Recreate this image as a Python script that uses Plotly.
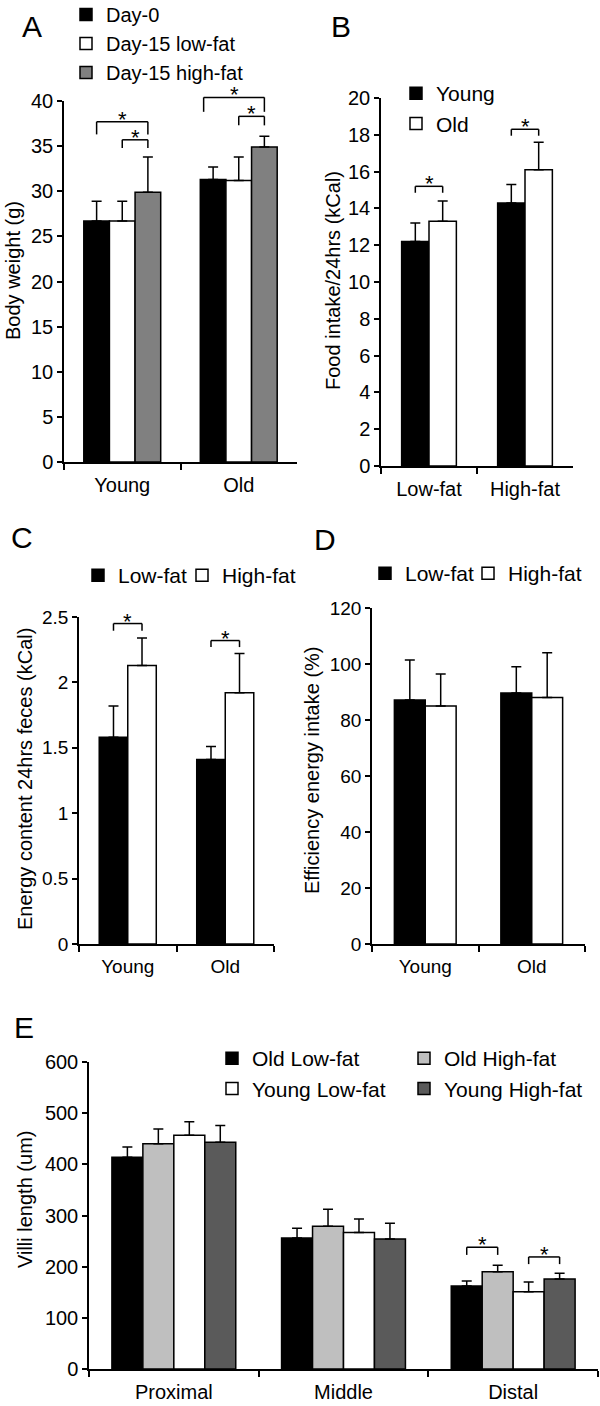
import plotly.graph_objects as go

W, H = 600, 1406
FONT = "Liberation Sans, Arial, Helvetica, sans-serif"

# ---------------- data ----------------
# Panel A
a_cats = ["Young", "Old"]
a_series = ["Day-0", "Day-15 low-fat", "Day-15 high-fat"]
a_vals = [[26.7, 31.3], [26.7, 31.2], [29.9, 34.9]]
a_errs = [[2.2, 1.4], [2.2, 2.6], [3.9, 1.2]]
# (category, from series, to series, bracket height, tick drop)
a_sig = [(0, 0, 2, 37.7, 1.4), (0, 1, 2, 35.7, 0.9),
         (1, 0, 2, 40.4, 1.6), (1, 1, 2, 38.3, 1.0)]

# Panel B
b_cats = ["Low-fat", "High-fat"]
b_series = ["Young", "Old"]
b_vals = [[12.2, 14.3], [13.3, 16.1]]
b_errs = [[1.0, 1.0], [1.1, 1.5]]
b_sig = [(0, 0, 1, 15.2, 0.35), (1, 0, 1, 18.3, 0.35)]

# Panel C
c_cats = ["Young", "Old"]
c_series = ["Low-fat", "High-fat"]
c_vals = [[1.58, 1.41], [2.13, 1.92]]
c_errs = [[0.24, 0.10], [0.21, 0.30]]
c_sig = [(0, 0, 1, 2.45, 0.055), (1, 0, 1, 2.32, 0.05)]

# Panel D
d_cats = ["Young", "Old"]
d_series = ["Low-fat", "High-fat"]
d_vals = [[87.1, 89.6], [85.0, 88.0]]
d_errs = [[14.3, 9.4], [11.4, 16.0]]
d_sig = []

# Panel E
e_cats = ["Proximal", "Middle", "Distal"]
e_series = ["Old Low-fat", "Old High-fat", "Young Low-fat", "Young High-fat"]
e_vals = [[414, 256, 162], [440, 279, 190], [457, 267, 151], [443, 254, 176]]
e_errs = [[20, 19, 10], [29, 33, 13], [26, 26, 19], [33, 31, 11]]
e_sig = [(2, 0, 1, 238, 15), (2, 2, 3, 219, 14)]


def px(x):
    return x / W


def py(y):
    return 1 - y / H


fig = go.Figure()
shapes = []
annotations = []


def panel(k, cats, series, vals, errs, colors, ymax, dtick, frac, xd, yd,
          legends, sig, tickfont, legwidths=None, left_shift=None):
    xa = "x" if k == 1 else f"x{k}"
    ya = "y" if k == 1 else f"y{k}"
    n = len(series)
    w = frac / n
    for i, name in enumerate(series):
        extra = {}
        if legwidths:
            extra["legendwidth"] = legwidths[i]
        fig.add_trace(go.Bar(
            x=cats, y=vals[i], name=name, xaxis=xa, yaxis=ya,
            width=w, offset=-frac / 2 + i * w,
            marker=dict(color=colors[i], line=dict(color="black", width=1.5)),
            error_y=dict(type="data", symmetric=False, array=errs[i],
                         arrayminus=[0] * len(cats), color="black",
                         thickness=1.5, width=5),
            legend=legends[i], showlegend=True, **extra
        ))
    axx = dict(domain=[px(xd[0]), px(xd[1])], anchor=ya, type="category",
               range=[-0.5, len(cats) - 0.5], showline=True, linecolor="black",
               linewidth=1.5, ticks="outside", tickson="boundaries", ticklen=6,
               tickwidth=1.5, tickcolor="black", showgrid=False, ticklabelstandoff=4,
               tickfont=dict(size=tickfont, color="black", family=FONT))
    axy = dict(domain=[py(yd[1]), py(yd[0])], anchor=xa, range=[0, ymax],
               dtick=dtick, tick0=0, showline=True, linecolor="black",
               linewidth=1.5, ticks="outside", ticklen=5, tickwidth=1.5,
               tickcolor="black", showgrid=False, zeroline=False,
               tickfont=dict(size=tickfont, color="black", family=FONT))
    fig.layout[("xaxis" if k == 1 else f"xaxis{k}")] = axx
    fig.layout[("yaxis" if k == 1 else f"yaxis{k}")] = axy
    # significance brackets
    for j, (c, s0, s1, h, drop) in enumerate(sig):
        sh = left_shift[j] if left_shift else 0
        x0 = c - frac / 2 + (s0 + 0.5 + sh) * w
        x1 = c - frac / 2 + (s1 + 0.5) * w
        yt = h / ymax
        yb = (h - drop) / ymax
        for (a0, b0, a1, b1) in [(x0, yb, x0, yt), (x0, yt, x1, yt), (x1, yt, x1, yb)]:
            shapes.append(dict(type="line", xref=xa, yref=f"{ya} domain",
                               x0=a0, y0=b0, x1=a1, y1=b1,
                               line=dict(color="black", width=1.5)))
        annotations.append(dict(x=(x0 + x1) / 2, y=yt, xref=xa, yref=f"{ya} domain",
                                text="*", showarrow=False, yanchor="bottom",
                                yshift=-12, font=dict(size=22, color="black", family=FONT)))


panel(1, a_cats, a_series, a_vals, a_errs, ["#000000", "#ffffff", "#808080"],
      40, 5, 0.66, (64, 297), (101, 462), ["legend"] * 3, a_sig, 20,
      left_shift=[0, 0, -0.37, 0])
panel(2, b_cats, b_series, b_vals, b_errs, ["#000000", "#ffffff"],
      20, 2, 0.57, (381, 573), (98, 466), ["legend2"] * 2, b_sig, 20)
panel(3, c_cats, c_series, c_vals, c_errs, ["#000000", "#ffffff"],
      2.5, 0.5, 0.585, (79, 274), (617, 944), ["legend3"] * 2, c_sig, 19,
      legwidths=[59, 80])
panel(4, d_cats, d_series, d_vals, d_errs, ["#000000", "#ffffff"],
      120, 20, 0.58, (372, 585), (608, 944), ["legend4"] * 2, d_sig, 19,
      legwidths=[58, 80])
panel(5, e_cats, e_series, e_vals, e_errs, ["#000000", "#bfbfbf", "#ffffff", "#5a5a5a"],
      600, 100, 0.73, (89, 598), (1062, 1369),
      ["legend5", "legend6", "legend5", "legend6"], e_sig, 20)

# panel letters
for letter, (lx, ly) in zip("ABCDE", [(32, 27), (341, 27), (22, 537), (325, 540), (24, 1027)]):
    annotations.append(dict(x=px(lx), y=py(ly), xref="paper", yref="paper", text=letter,
                            showarrow=False, xanchor="center", yanchor="middle",
                            font=dict(size=30, color="black", family=FONT)))

# y-axis titles
ytitles = [("Body weight (g)", 13, 271), ("Food intake/24hrs (kCal)", 333, 281),
           ("Energy content 24hrs feces (kCal)", 25, 779),
           ("Efficiency energy intake (%)", 312, 770), ("Villi length (um)", 25, 1200)]
for t, tx, ty in ytitles:
    annotations.append(dict(x=px(tx), y=py(ty), xref="paper", yref="paper", text=t,
                            showarrow=False, textangle=-90, xanchor="center", yanchor="middle",
                            font=dict(size=20, color="black", family=FONT)))

leg_common = dict(bgcolor="rgba(0,0,0,0)", borderwidth=0, xanchor="left", yanchor="top",
                  tracegroupgap=0, itemclick=False, itemdoubleclick=False)
f20 = dict(size=20, color="black", family=FONT)
f21 = dict(size=21, color="black", family=FONT)
fig.update_layout(
    legend=dict(x=px(66), y=py(-5), orientation="v", font=f20, **leg_common),
    legend2=dict(x=px(396), y=py(73), orientation="v", font=f21, **leg_common),
    legend3=dict(x=px(78), y=py(555), orientation="h", font=f21, **leg_common),
    legend4=dict(x=px(365), y=py(553), orientation="h", font=f21, **leg_common),
    legend5=dict(x=px(212), y=py(1038), orientation="v", font=f21, **leg_common),
    legend6=dict(x=px(404), y=py(1038), orientation="v", font=f21, **leg_common),
)

fig.update_layout(width=W, height=H,
                  margin=dict(l=0, r=0, t=0, b=0, autoexpand=False),
                  paper_bgcolor="white", plot_bgcolor="white", barmode="overlay",
                  font=dict(family=FONT, color="black"), shapes=shapes,
                  annotations=annotations, hovermode=False)

fig.write_html("out.html", config={"displayModeBar": False},
               post_script="document.body.style.margin='0';"
                           "document.body.style.padding='0';"
                           "document.documentElement.style.overflow='hidden';")
